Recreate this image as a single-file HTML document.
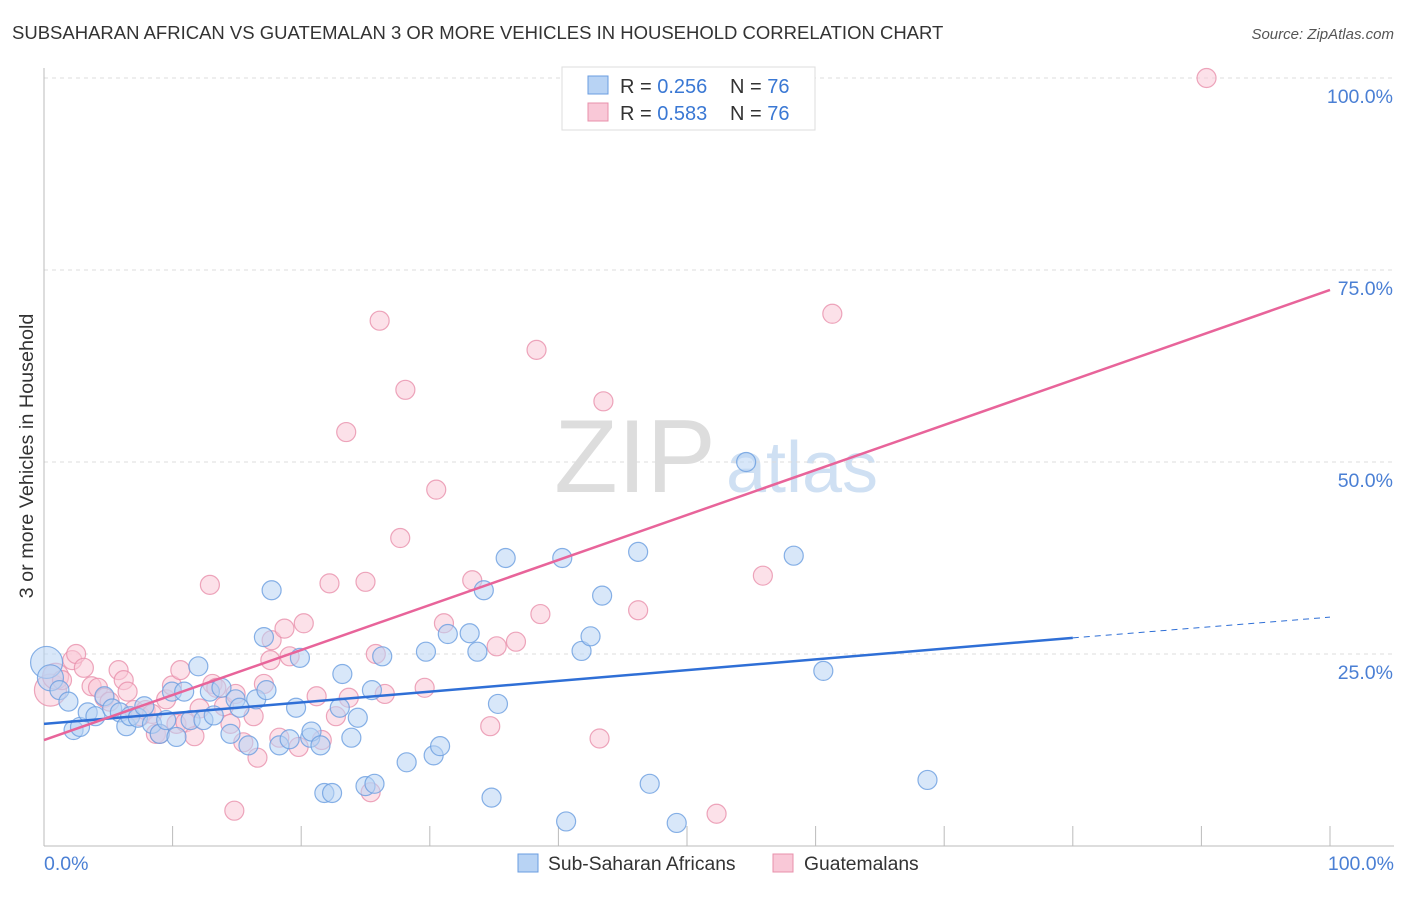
<!DOCTYPE html>
<html><head><meta charset="utf-8"><style>
body{margin:0;background:#fff;font-family:"Liberation Sans",sans-serif;}
svg text{font-family:"Liberation Sans",sans-serif;}
</style></head><body>
<svg id="chart" width="1406" height="892" xmlns="http://www.w3.org/2000/svg">
<text x="12" y="39" font-size="18.5" fill="#333">SUBSAHARAN AFRICAN VS GUATEMALAN 3 OR MORE VEHICLES IN HOUSEHOLD CORRELATION CHART</text>
<text x="1394" y="39" font-size="15" fill="#555" font-style="italic" text-anchor="end">Source: ZipAtlas.com</text>
<text x="33" y="456" font-size="19.8" fill="#333" text-anchor="middle" transform="rotate(-90 33 456)">3 or more Vehicles in Household</text>
<g><text x="635" y="492" font-size="104" fill="#ddd" text-anchor="middle" font-family="Liberation Serif">ZIP</text><text x="802" y="492" font-size="72" fill="#cfe0f3" text-anchor="middle">atlas</text></g>
<g id="grid"></g><g id="axes"></g><g id="pts"></g><g id="trend"></g>
<g>
<rect x="562" y="67" width="253" height="63" fill="#fff" stroke="#ddd"/>
<rect x="588" y="76" width="20" height="18" fill="#b8d3f4" stroke="#6a9de0"/>
<rect x="588" y="103" width="20" height="18" fill="#f9c8d7" stroke="#e890ab"/>
<text x="620" y="93" font-size="20" fill="#333">R = <tspan fill="#3a78d4">0.256</tspan></text>
<text x="730" y="93" font-size="20" fill="#333">N = <tspan fill="#3a78d4">76</tspan></text>
<text x="620" y="120" font-size="20" fill="#333">R = <tspan fill="#3a78d4">0.583</tspan></text>
<text x="730" y="120" font-size="20" fill="#333">N = <tspan fill="#3a78d4">76</tspan></text>
</g>
<g>
<rect x="518" y="854" width="20" height="18" fill="#b8d3f4" stroke="#6a9de0"/>
<text x="548" y="870" font-size="19.3" fill="#333">Sub-Saharan Africans</text>
<rect x="773" y="854" width="20" height="18" fill="#f9c8d7" stroke="#e890ab"/>
<text x="804" y="870" font-size="19.3" fill="#333">Guatemalans</text>
</g>
<text x="44" y="870" font-size="19.5" fill="#4a7fd4">0.0%</text>
<text x="1394" y="870" font-size="19.5" fill="#4a7fd4" text-anchor="end">100.0%</text>
</svg>
<script>
const yTicks=[100,75,50,25];
const yTickLabels=["100.0%","75.0%","50.0%","25.0%"];
const blueX=[0.2,0.5,1.2,1.9,2.3,2.8,3.4,4.0,4.7,5.3,5.9,6.4,6.7,7.3,7.8,8.4,9.0,9.5,9.95,10.3,10.9,11.4,12.0,12.4,12.9,13.2,13.8,14.5,14.9,15.2,15.9,16.5,17.1,17.3,17.7,18.3,19.1,19.6,19.9,20.7,20.8,21.5,21.8,22.4,23.0,23.2,23.9,24.4,25.0,25.7,25.5,26.3,28.2,29.7,30.3,30.8,31.4,33.1,33.7,34.2,34.8,35.3,35.9,40.3,40.6,41.8,42.5,43.4,46.2,47.1,49.2,54.6,60.6,58.3,68.7]
const blueY=[23.9,21.9,20.3,18.8,15.1,15.5,17.4,16.9,19.5,17.9,17.4,15.6,16.9,16.7,18.2,15.9,14.6,16.4,20.1,14.2,20.1,16.4,23.4,16.4,20.1,17.0,20.6,14.6,19.1,18.0,13.1,19.1,27.2,20.3,33.3,13.1,13.9,18.0,24.5,14.1,14.9,13.1,6.9,6.9,18.0,22.4,14.1,16.7,7.8,8.1,20.3,24.7,10.9,25.3,11.8,13.0,27.6,27.7,25.3,33.3,6.3,18.5,37.5,37.5,3.2,25.4,27.3,32.6,38.3,8.1,3.0,50.0,22.8,37.8,8.6];
const pinkX=[0.5,0.9,1.4,2.2,2.5,3.1,3.7,4.2,4.7,5.1,5.8,6.2,6.5,7.0,7.5,7.9,8.4,8.7,9.0,9.5,9.95,10.3,10.6,11.0,11.7,12.1,12.9,13.1,13.4,14.0,14.5,14.9,15.5,16.3,16.6,17.1,17.6,17.7,18.3,18.7,19.1,19.8,20.2,21.2,21.6,22.2,22.7,23.5,23.7,25.0,25.4,25.8,26.1,26.5,27.7,28.1,29.6,30.5,31.1,33.3,34.7,35.2,36.7,38.3,38.6,43.2,43.5,46.2,52.3,55.9,61.3,90.4,14.8];
const pinkY=[20.3,22.1,21.6,24.2,25.0,23.2,20.8,20.6,19.3,18.8,22.9,21.6,20.1,17.7,16.9,17.7,17.2,14.6,14.6,19.1,20.9,15.9,22.9,16.1,14.3,17.9,34.0,21.1,20.6,18.2,15.9,19.8,13.5,16.9,11.5,21.1,24.2,26.8,14.1,28.3,24.7,12.9,29.0,19.5,13.8,34.2,16.9,53.9,19.3,34.4,7.0,25.0,68.4,19.8,40.1,59.4,20.6,46.4,29.0,34.6,15.6,26.0,26.6,64.6,30.2,14.0,57.9,30.7,4.2,35.2,69.3,100,4.6];
const blueTrend=[15.9,27.1,29.8]; // at x=0, 80, 100
const pinkTrend=[13.8,72.4]; // at x=0, 100
const NS="http://www.w3.org/2000/svg";
const X=v=>44+v*12.86, Y=v=>846-v*7.68;
function mk(tag,attrs,parent){const e=document.createElementNS(NS,tag);for(const k in attrs)e.setAttribute(k,attrs[k]);parent.appendChild(e);return e;}
const grid=document.getElementById('grid'),axes=document.getElementById('axes'),pts=document.getElementById('pts'),trend=document.getElementById('trend');
yTicks.forEach((t,i)=>{
 const l=mk('line',{x1:44,x2:1394,y1:Y(t),y2:Y(t),stroke:'#ddd','stroke-dasharray':'4,4'},grid);
 
 
 const tx=mk('text',{x:1393,y:Y(t)+25,'font-size':19.5,fill:'#4a7fd4','text-anchor':'end'},axes);
 tx.textContent=yTickLabels[i];
 
 
});
const ax=mk('line',{x1:44,x2:44,y1:68,y2:846,stroke:'#bbb'},axes);


const bx=mk('line',{x1:44,x2:1394,y1:846,y2:846,stroke:'#bbb'},axes);


for(let i=1;i<=10;i++){const t=mk('line',{x1:X(i*10),x2:X(i*10),y1:826,y2:846,stroke:'#bbb'},axes);
 
 }
function dots(xs,ys,fill,stroke,name){xs.forEach((x,i)=>{
 const r=(x<1)?(i==0?16:13):9.5;
 const c=mk('circle',{cx:X(x),cy:Y(ys[i]),r:r,fill:fill,'fill-opacity':0.55,stroke:stroke,'stroke-width':1.2,'stroke-opacity':0.8},pts);
 
 
});}
dots(pinkX,pinkY,'#f9c8d7','#e890ab','guatemalan-point');
dots(blueX,blueY,'#b8d3f4','#6a9de0','subsaharan-point');
let t1=mk('line',{x1:X(0),y1:Y(blueTrend[0]),x2:X(80),y2:Y(blueTrend[1]),stroke:'#2f6fd6','stroke-width':2.5},trend);


let t2=mk('line',{x1:X(80),y1:Y(blueTrend[1]),x2:X(100),y2:Y(blueTrend[2]),stroke:'#2f6fd6','stroke-width':1,'stroke-dasharray':'6,5'},trend);


let t3=mk('line',{x1:X(0),y1:Y(pinkTrend[0]),x2:X(100),y2:Y(pinkTrend[1]),stroke:'#e8649a','stroke-width':2.5},trend);


</script>
</body></html>
